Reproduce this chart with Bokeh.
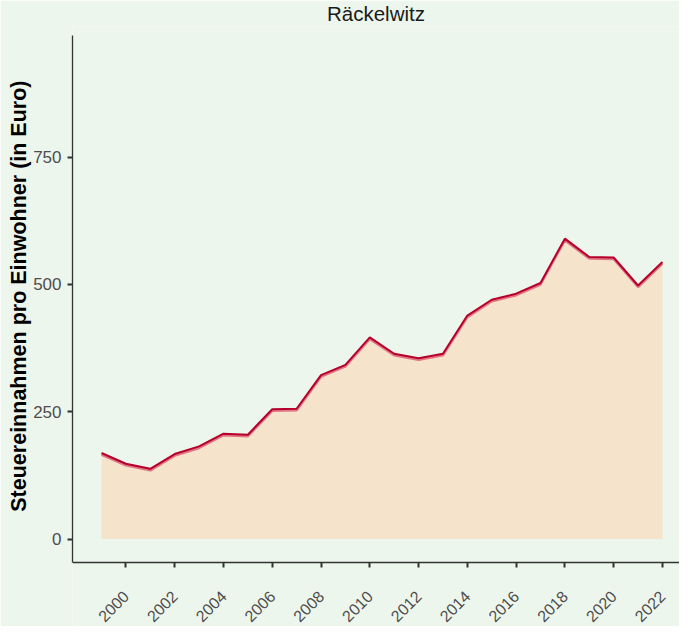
import math
from bokeh.plotting import figure
from bokeh.models import ColumnDataSource, Range1d, FixedTicker, Title
from bokeh.transform import dodge
from bokeh.embed import file_html
from bokeh.resources import INLINE

years = list(range(1999, 2023))
values = [169, 148, 138, 167, 182, 207, 205, 255, 256, 322, 342, 396,
          364, 355, 364, 439, 470, 482, 503, 590, 554, 553, 498, 544]
x_ticks = list(range(2000, 2023, 2))
y_ticks = [0, 250, 500, 750]
title_text = "Räckelwitz"
y_label = "Steuereinnahmen pro Einwohner (in Euro)"

BG = "#EDF6EC"
Y_AXIS_LO, Y_AXIS_HI = -46, 989
src = ColumnDataSource(dict(x=years, y=values, zero=[0] * len(years)))

p = figure(width=679, height=626, output_backend="svg", toolbar_location=None,
           x_range=Range1d(1997.81, 2022.70), y_range=Range1d(-171.7, 1006.7),
           min_border_left=72, min_border_right=0, min_border_top=26,
           min_border_bottom=0)
p.background_fill_color = BG
p.border_fill_color = BG
p.outline_line_color = None
p.xgrid.visible = False
p.ygrid.visible = False

p.title.text = title_text
p.title.align = "center"
p.title.vertical_align = "top"
p.title.standoff = 0
p.title.text_font = "Liberation Sans"
p.title.text_font_size = "20.5px"
p.title.text_font_style = "normal"
p.title.text_color = "#1a1a1a"

p.varea(x="x", y1="zero", y2="y", source=src, fill_color="#F5E3CC")
p.line(x="x", y=dodge("y", -3.0, range=p.y_range), source=src,
       line_color="#E27382", line_width=2.5)
p.line(x="x", y="y", source=src, line_color="#B5002B", line_width=2)

for ax in (p.xaxis[0], p.yaxis[0]):
    ax.axis_line_color = "#333333"
    ax.axis_line_width = 1.3
    ax.major_tick_line_color = "#333333"
    ax.major_tick_line_width = 2
    ax.major_tick_out = 5
    ax.major_tick_in = 0
    ax.minor_tick_line_color = None
    ax.major_label_text_font = "Liberation Sans"
    ax.major_label_text_font_size = "17px"
    ax.major_label_text_color = "#4D4D4D"

p.xaxis.ticker = FixedTicker(ticks=x_ticks)
p.yaxis.ticker = FixedTicker(ticks=y_ticks)
p.yaxis.bounds = (Y_AXIS_LO, Y_AXIS_HI)
p.xaxis.fixed_location = Y_AXIS_LO
p.xaxis.major_label_orientation = math.pi / 4
p.xaxis.major_label_text_font_size = "16px"
p.xaxis.major_label_standoff = 26
p.yaxis.major_label_standoff = 6

ylab = Title(text=y_label, align="right", offset=54, standoff=0,
             text_font="Liberation Sans", text_font_size="21.5px",
             text_font_style="bold", text_color="#000000")
p.add_layout(ylab, "left")

open("out.html", "w").write(file_html(p, INLINE))
